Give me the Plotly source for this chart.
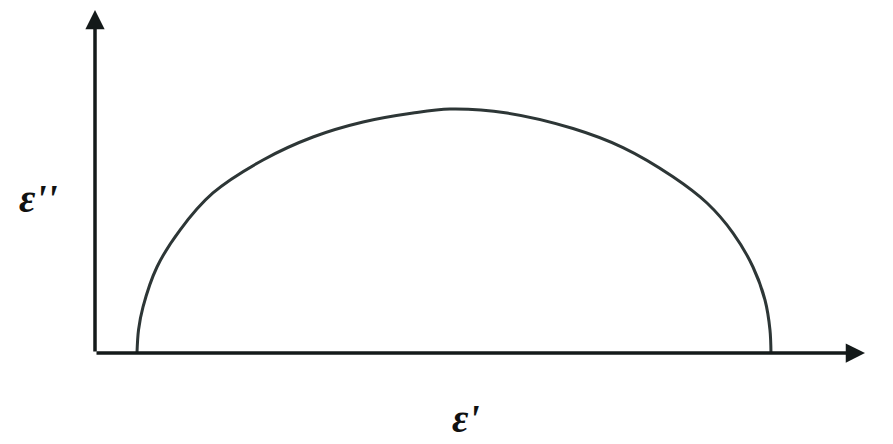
import plotly.graph_objects as go

# Cole-Cole (Debye) semicircle (arbitrary units)
eps_real = [5.45, 5.65, 6.23, 8.05, 11.04, 15.32, 21.82, 28.31, 34.81, 41.30, 46.10,
            53.51, 62.08, 68.57, 75.06, 79.48, 82.86, 85.45, 87.01, 87.66, 87.79]
eps_imag = [0.0, 3.86, 7.72, 14.44, 20.65, 26.87, 32.41, 36.27, 38.79, 40.30, 40.97,
            40.30, 37.70, 34.50, 29.60, 25.19, 20.15, 14.44, 8.90, 3.86, 0.0]

x_label = "ε'"
y_label = "ε''"

X_MAX = 100
Y_MAX = 57.6

fig = go.Figure()
fig.add_trace(go.Scatter(
    x=eps_real, y=eps_imag, mode="lines",
    line=dict(color="#2d3636", width=3, shape="spline", smoothing=0.9),
    hoverinfo="skip", showlegend=False,
))

axis_col = "#141a1a"
# axes with arrowheads
fig.add_annotation(x=X_MAX, y=0, ax=0, ay=0, xref="x", yref="y", axref="x", ayref="y",
                   showarrow=True, arrowhead=2, arrowsize=1.1, arrowwidth=3.5,
                   arrowcolor=axis_col, text="", standoff=0, startstandoff=0)
fig.add_annotation(x=0, y=Y_MAX, ax=0, ay=0, xref="x", yref="y", axref="x", ayref="y",
                   showarrow=True, arrowhead=2, arrowsize=1.1, arrowwidth=3.5,
                   arrowcolor=axis_col, text="", standoff=0, startstandoff=0)

label_font = dict(family="Liberation Serif", size=40, color="#111111")
fig.add_annotation(x=-0.074, y=0.45, xref="paper", yref="paper", showarrow=False,
                   xanchor="center", yanchor="middle",
                   text="<b><i>" + y_label + "</i></b>", font=label_font)
fig.add_annotation(x=0.482, y=-0.19, xref="paper", yref="paper", showarrow=False,
                   xanchor="center", yanchor="middle",
                   text="<b><i>" + x_label + "</i></b>", font=label_font)

fig.update_xaxes(range=[0, X_MAX], visible=False, fixedrange=True)
fig.update_yaxes(range=[0, Y_MAX], visible=False, fixedrange=True)
fig.update_layout(
    width=893, height=444,
    margin=dict(l=87, r=36, t=2, b=99),
    paper_bgcolor="white", plot_bgcolor="white",
    showlegend=False,
)

fig.write_html("out.html")
